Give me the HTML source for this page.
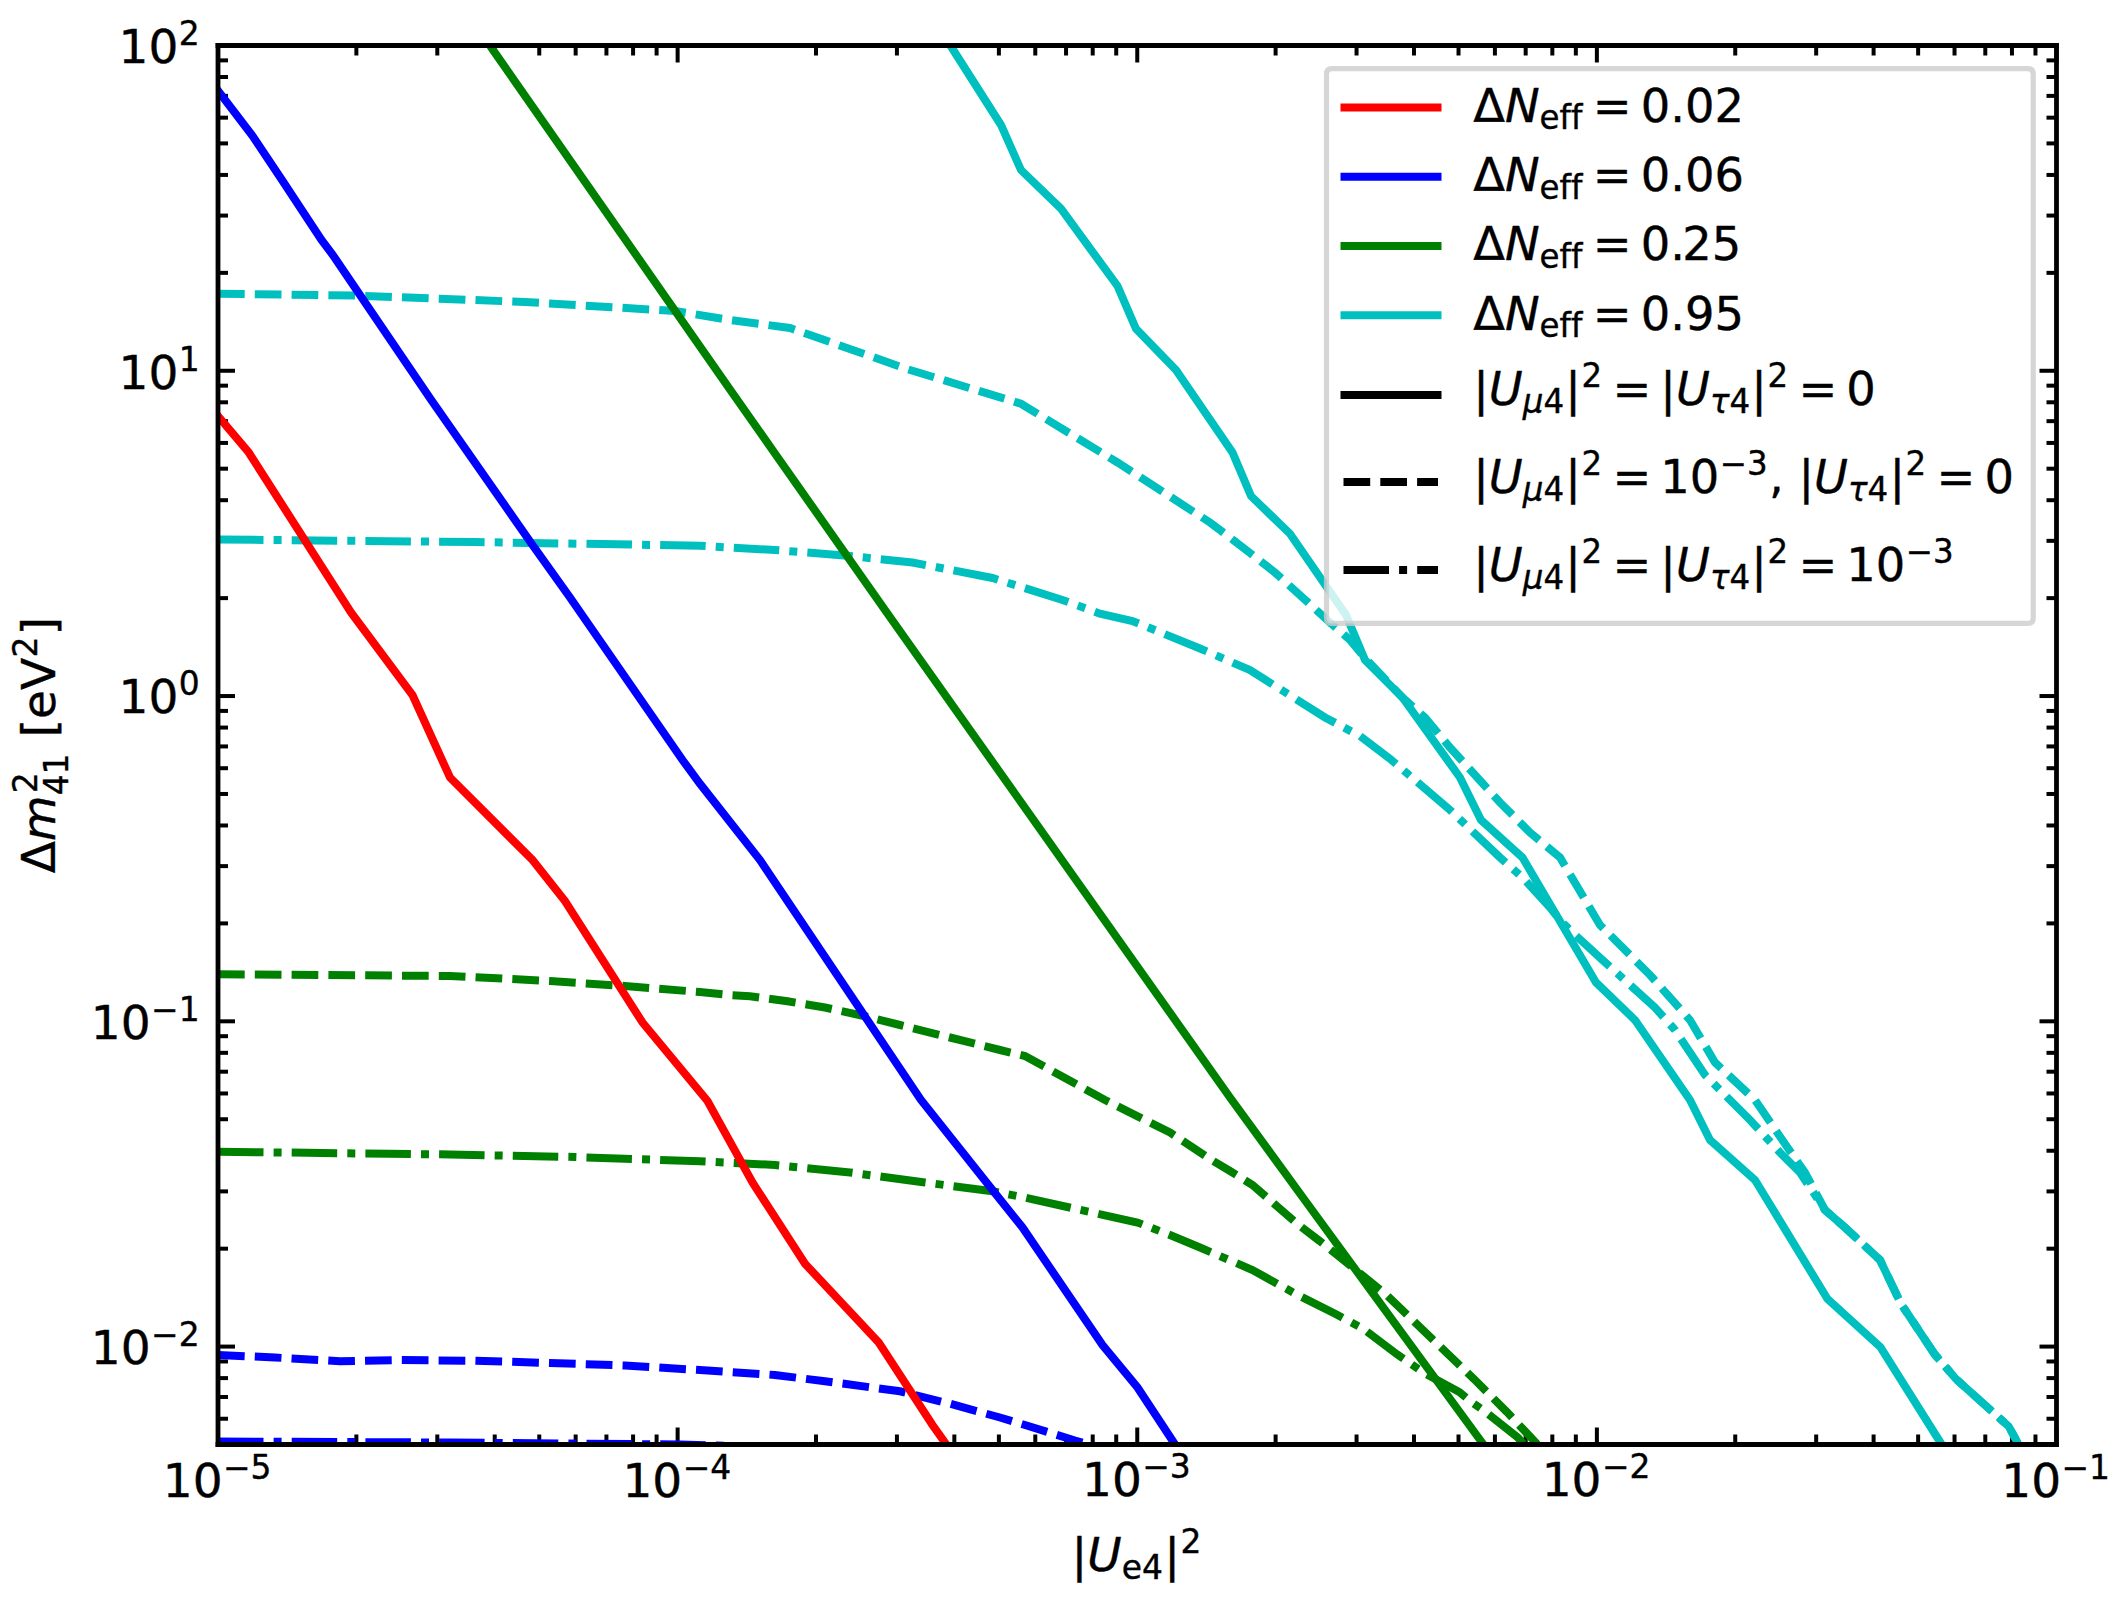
<!DOCTYPE html>
<html lang="en"><head><meta charset="utf-8"><title>Sterile neutrino contours</title>
<style>html,body{margin:0;padding:0;background:#fff}svg{display:block}text{font-family:"DejaVu Sans","Liberation Sans",sans-serif;stroke:#000;stroke-width:0.4px}</style>
</head><body>
<svg width="2120" height="1597" viewBox="0 0 2120 1597">
 <defs>
  <style type="text/css">*{stroke-linejoin: round; stroke-linecap: butt}</style>
 </defs>
 <g id="figure_1">
  <g id="patch_1">
   <path d="M 0 1597 
L 2120 1597 
L 2120 0 
L 0 0 
z
" style="fill: #ffffff"/>
  </g>
  <g id="axes_1">
   <g id="patch_2">
    <path d="M 218 1444.5 
L 2056.5 1444.5 
L 2056.5 45.5 
L 218 45.5 
z
" style="fill: #ffffff"/>
   </g>
   <g id="matplotlib.axis_1">
    <g id="xtick_1">
     <g id="line2d_1">
      <defs>
       <path id="mb663ec5b31" d="M 0 0 
L 0 -17 
" style="stroke: #000000; stroke-width: 4"/>
      </defs>
      <g>
       <use href="#mb663ec5b31" x="218" y="1444.5" style="stroke: #000000; stroke-width: 4"/>
      </g>
     </g>
     <g id="line2d_2">
      <defs>
       <path id="m6921e576f6" d="M 0 0 
L 0 17 
" style="stroke: #000000; stroke-width: 4"/>
      </defs>
      <g>
       <use href="#m6921e576f6" x="218" y="45.5" style="stroke: #000000; stroke-width: 4"/>
      </g>
     </g>
     <g id="text_1">
      <g transform="translate(162.775 1496.912656)">
       <text><tspan x="0 29.9" y="-0.02" style="font-size: 47px; font-family: 'DejaVu Sans', 'Liberation Sans', sans-serif">10</tspan><tspan x="60.26 87.82" y="-18.01" style="font-size: 32.9px; font-family: 'DejaVu Sans', 'Liberation Sans', sans-serif">−5</tspan></text>
      </g>
     </g>
    </g>
    <g id="xtick_2">
     <g id="line2d_3">
      <g>
       <use href="#mb663ec5b31" x="677.625" y="1444.5" style="stroke: #000000; stroke-width: 4"/>
      </g>
     </g>
     <g id="line2d_4">
      <g>
       <use href="#m6921e576f6" x="677.625" y="45.5" style="stroke: #000000; stroke-width: 4"/>
      </g>
     </g>
     <g id="text_2">
      <g transform="translate(622.4 1496.912656)">
       <text><tspan x="0 29.9" y="-0.02" style="font-size: 47px; font-family: 'DejaVu Sans', 'Liberation Sans', sans-serif">10</tspan><tspan x="60.26 87.82" y="-18.01" style="font-size: 32.9px; font-family: 'DejaVu Sans', 'Liberation Sans', sans-serif">−4</tspan></text>
      </g>
     </g>
    </g>
    <g id="xtick_3">
     <g id="line2d_5">
      <g>
       <use href="#mb663ec5b31" x="1137.25" y="1444.5" style="stroke: #000000; stroke-width: 4"/>
      </g>
     </g>
     <g id="line2d_6">
      <g>
       <use href="#m6921e576f6" x="1137.25" y="45.5" style="stroke: #000000; stroke-width: 4"/>
      </g>
     </g>
     <g id="text_3">
      <g transform="translate(1082.025 1496.912656)">
       <text><tspan x="0 29.9" y="-0.58" style="font-size: 47px; font-family: 'DejaVu Sans', 'Liberation Sans', sans-serif">10</tspan><tspan x="60.26 87.82" y="-18.58" style="font-size: 32.9px; font-family: 'DejaVu Sans', 'Liberation Sans', sans-serif">−3</tspan></text>
      </g>
     </g>
    </g>
    <g id="xtick_4">
     <g id="line2d_7">
      <g>
       <use href="#mb663ec5b31" x="1596.875" y="1444.5" style="stroke: #000000; stroke-width: 4"/>
      </g>
     </g>
     <g id="line2d_8">
      <g>
       <use href="#m6921e576f6" x="1596.875" y="45.5" style="stroke: #000000; stroke-width: 4"/>
      </g>
     </g>
     <g id="text_4">
      <g transform="translate(1541.65 1496.912656)">
       <text><tspan x="0 29.9" y="-0.58" style="font-size: 47px; font-family: 'DejaVu Sans', 'Liberation Sans', sans-serif">10</tspan><tspan x="60.26 87.82" y="-18.58" style="font-size: 32.9px; font-family: 'DejaVu Sans', 'Liberation Sans', sans-serif">−2</tspan></text>
      </g>
     </g>
    </g>
    <g id="xtick_5">
     <g id="line2d_9">
      <g>
       <use href="#mb663ec5b31" x="2056.5" y="1444.5" style="stroke: #000000; stroke-width: 4"/>
      </g>
     </g>
     <g id="line2d_10">
      <g>
       <use href="#m6921e576f6" x="2056.5" y="45.5" style="stroke: #000000; stroke-width: 4"/>
      </g>
     </g>
     <g id="text_5">
      <g transform="translate(2001.275 1496.912656)">
       <text><tspan x="0 29.9" y="-0.02" style="font-size: 47px; font-family: 'DejaVu Sans', 'Liberation Sans', sans-serif">10</tspan><tspan x="60.26 87.82" y="-18.01" style="font-size: 32.9px; font-family: 'DejaVu Sans', 'Liberation Sans', sans-serif">−1</tspan></text>
      </g>
     </g>
    </g>
    <g id="xtick_6">
     <g id="line2d_11">
      <defs>
       <path id="mf6463acd88" d="M 0 0 
L 0 -10 
" style="stroke: #000000; stroke-width: 4"/>
      </defs>
      <g>
       <use href="#mf6463acd88" x="356.360912" y="1444.5" style="stroke: #000000; stroke-width: 4"/>
      </g>
     </g>
     <g id="line2d_12">
      <defs>
       <path id="m4c3a717965" d="M 0 0 
L 0 10 
" style="stroke: #000000; stroke-width: 4"/>
      </defs>
      <g>
       <use href="#m4c3a717965" x="356.360912" y="45.5" style="stroke: #000000; stroke-width: 4"/>
      </g>
     </g>
    </g>
    <g id="xtick_7">
     <g id="line2d_13">
      <g>
       <use href="#mf6463acd88" x="437.296857" y="1444.5" style="stroke: #000000; stroke-width: 4"/>
      </g>
     </g>
     <g id="line2d_14">
      <g>
       <use href="#m4c3a717965" x="437.296857" y="45.5" style="stroke: #000000; stroke-width: 4"/>
      </g>
     </g>
    </g>
    <g id="xtick_8">
     <g id="line2d_15">
      <g>
       <use href="#mf6463acd88" x="494.721824" y="1444.5" style="stroke: #000000; stroke-width: 4"/>
      </g>
     </g>
     <g id="line2d_16">
      <g>
       <use href="#m4c3a717965" x="494.721824" y="45.5" style="stroke: #000000; stroke-width: 4"/>
      </g>
     </g>
    </g>
    <g id="xtick_9">
     <g id="line2d_17">
      <g>
       <use href="#mf6463acd88" x="539.264088" y="1444.5" style="stroke: #000000; stroke-width: 4"/>
      </g>
     </g>
     <g id="line2d_18">
      <g>
       <use href="#m4c3a717965" x="539.264088" y="45.5" style="stroke: #000000; stroke-width: 4"/>
      </g>
     </g>
    </g>
    <g id="xtick_10">
     <g id="line2d_19">
      <g>
       <use href="#mf6463acd88" x="575.657768" y="1444.5" style="stroke: #000000; stroke-width: 4"/>
      </g>
     </g>
     <g id="line2d_20">
      <g>
       <use href="#m4c3a717965" x="575.657768" y="45.5" style="stroke: #000000; stroke-width: 4"/>
      </g>
     </g>
    </g>
    <g id="xtick_11">
     <g id="line2d_21">
      <g>
       <use href="#mf6463acd88" x="606.428187" y="1444.5" style="stroke: #000000; stroke-width: 4"/>
      </g>
     </g>
     <g id="line2d_22">
      <g>
       <use href="#m4c3a717965" x="606.428187" y="45.5" style="stroke: #000000; stroke-width: 4"/>
      </g>
     </g>
    </g>
    <g id="xtick_12">
     <g id="line2d_23">
      <g>
       <use href="#mf6463acd88" x="633.082735" y="1444.5" style="stroke: #000000; stroke-width: 4"/>
      </g>
     </g>
     <g id="line2d_24">
      <g>
       <use href="#m4c3a717965" x="633.082735" y="45.5" style="stroke: #000000; stroke-width: 4"/>
      </g>
     </g>
    </g>
    <g id="xtick_13">
     <g id="line2d_25">
      <g>
       <use href="#mf6463acd88" x="656.593713" y="1444.5" style="stroke: #000000; stroke-width: 4"/>
      </g>
     </g>
     <g id="line2d_26">
      <g>
       <use href="#m4c3a717965" x="656.593713" y="45.5" style="stroke: #000000; stroke-width: 4"/>
      </g>
     </g>
    </g>
    <g id="xtick_14">
     <g id="line2d_27">
      <g>
       <use href="#mf6463acd88" x="815.985912" y="1444.5" style="stroke: #000000; stroke-width: 4"/>
      </g>
     </g>
     <g id="line2d_28">
      <g>
       <use href="#m4c3a717965" x="815.985912" y="45.5" style="stroke: #000000; stroke-width: 4"/>
      </g>
     </g>
    </g>
    <g id="xtick_15">
     <g id="line2d_29">
      <g>
       <use href="#mf6463acd88" x="896.921857" y="1444.5" style="stroke: #000000; stroke-width: 4"/>
      </g>
     </g>
     <g id="line2d_30">
      <g>
       <use href="#m4c3a717965" x="896.921857" y="45.5" style="stroke: #000000; stroke-width: 4"/>
      </g>
     </g>
    </g>
    <g id="xtick_16">
     <g id="line2d_31">
      <g>
       <use href="#mf6463acd88" x="954.346824" y="1444.5" style="stroke: #000000; stroke-width: 4"/>
      </g>
     </g>
     <g id="line2d_32">
      <g>
       <use href="#m4c3a717965" x="954.346824" y="45.5" style="stroke: #000000; stroke-width: 4"/>
      </g>
     </g>
    </g>
    <g id="xtick_17">
     <g id="line2d_33">
      <g>
       <use href="#mf6463acd88" x="998.889088" y="1444.5" style="stroke: #000000; stroke-width: 4"/>
      </g>
     </g>
     <g id="line2d_34">
      <g>
       <use href="#m4c3a717965" x="998.889088" y="45.5" style="stroke: #000000; stroke-width: 4"/>
      </g>
     </g>
    </g>
    <g id="xtick_18">
     <g id="line2d_35">
      <g>
       <use href="#mf6463acd88" x="1035.282768" y="1444.5" style="stroke: #000000; stroke-width: 4"/>
      </g>
     </g>
     <g id="line2d_36">
      <g>
       <use href="#m4c3a717965" x="1035.282768" y="45.5" style="stroke: #000000; stroke-width: 4"/>
      </g>
     </g>
    </g>
    <g id="xtick_19">
     <g id="line2d_37">
      <g>
       <use href="#mf6463acd88" x="1066.053187" y="1444.5" style="stroke: #000000; stroke-width: 4"/>
      </g>
     </g>
     <g id="line2d_38">
      <g>
       <use href="#m4c3a717965" x="1066.053187" y="45.5" style="stroke: #000000; stroke-width: 4"/>
      </g>
     </g>
    </g>
    <g id="xtick_20">
     <g id="line2d_39">
      <g>
       <use href="#mf6463acd88" x="1092.707735" y="1444.5" style="stroke: #000000; stroke-width: 4"/>
      </g>
     </g>
     <g id="line2d_40">
      <g>
       <use href="#m4c3a717965" x="1092.707735" y="45.5" style="stroke: #000000; stroke-width: 4"/>
      </g>
     </g>
    </g>
    <g id="xtick_21">
     <g id="line2d_41">
      <g>
       <use href="#mf6463acd88" x="1116.218713" y="1444.5" style="stroke: #000000; stroke-width: 4"/>
      </g>
     </g>
     <g id="line2d_42">
      <g>
       <use href="#m4c3a717965" x="1116.218713" y="45.5" style="stroke: #000000; stroke-width: 4"/>
      </g>
     </g>
    </g>
    <g id="xtick_22">
     <g id="line2d_43">
      <g>
       <use href="#mf6463acd88" x="1275.610912" y="1444.5" style="stroke: #000000; stroke-width: 4"/>
      </g>
     </g>
     <g id="line2d_44">
      <g>
       <use href="#m4c3a717965" x="1275.610912" y="45.5" style="stroke: #000000; stroke-width: 4"/>
      </g>
     </g>
    </g>
    <g id="xtick_23">
     <g id="line2d_45">
      <g>
       <use href="#mf6463acd88" x="1356.546857" y="1444.5" style="stroke: #000000; stroke-width: 4"/>
      </g>
     </g>
     <g id="line2d_46">
      <g>
       <use href="#m4c3a717965" x="1356.546857" y="45.5" style="stroke: #000000; stroke-width: 4"/>
      </g>
     </g>
    </g>
    <g id="xtick_24">
     <g id="line2d_47">
      <g>
       <use href="#mf6463acd88" x="1413.971824" y="1444.5" style="stroke: #000000; stroke-width: 4"/>
      </g>
     </g>
     <g id="line2d_48">
      <g>
       <use href="#m4c3a717965" x="1413.971824" y="45.5" style="stroke: #000000; stroke-width: 4"/>
      </g>
     </g>
    </g>
    <g id="xtick_25">
     <g id="line2d_49">
      <g>
       <use href="#mf6463acd88" x="1458.514088" y="1444.5" style="stroke: #000000; stroke-width: 4"/>
      </g>
     </g>
     <g id="line2d_50">
      <g>
       <use href="#m4c3a717965" x="1458.514088" y="45.5" style="stroke: #000000; stroke-width: 4"/>
      </g>
     </g>
    </g>
    <g id="xtick_26">
     <g id="line2d_51">
      <g>
       <use href="#mf6463acd88" x="1494.907768" y="1444.5" style="stroke: #000000; stroke-width: 4"/>
      </g>
     </g>
     <g id="line2d_52">
      <g>
       <use href="#m4c3a717965" x="1494.907768" y="45.5" style="stroke: #000000; stroke-width: 4"/>
      </g>
     </g>
    </g>
    <g id="xtick_27">
     <g id="line2d_53">
      <g>
       <use href="#mf6463acd88" x="1525.678187" y="1444.5" style="stroke: #000000; stroke-width: 4"/>
      </g>
     </g>
     <g id="line2d_54">
      <g>
       <use href="#m4c3a717965" x="1525.678187" y="45.5" style="stroke: #000000; stroke-width: 4"/>
      </g>
     </g>
    </g>
    <g id="xtick_28">
     <g id="line2d_55">
      <g>
       <use href="#mf6463acd88" x="1552.332735" y="1444.5" style="stroke: #000000; stroke-width: 4"/>
      </g>
     </g>
     <g id="line2d_56">
      <g>
       <use href="#m4c3a717965" x="1552.332735" y="45.5" style="stroke: #000000; stroke-width: 4"/>
      </g>
     </g>
    </g>
    <g id="xtick_29">
     <g id="line2d_57">
      <g>
       <use href="#mf6463acd88" x="1575.843713" y="1444.5" style="stroke: #000000; stroke-width: 4"/>
      </g>
     </g>
     <g id="line2d_58">
      <g>
       <use href="#m4c3a717965" x="1575.843713" y="45.5" style="stroke: #000000; stroke-width: 4"/>
      </g>
     </g>
    </g>
    <g id="xtick_30">
     <g id="line2d_59">
      <g>
       <use href="#mf6463acd88" x="1735.235912" y="1444.5" style="stroke: #000000; stroke-width: 4"/>
      </g>
     </g>
     <g id="line2d_60">
      <g>
       <use href="#m4c3a717965" x="1735.235912" y="45.5" style="stroke: #000000; stroke-width: 4"/>
      </g>
     </g>
    </g>
    <g id="xtick_31">
     <g id="line2d_61">
      <g>
       <use href="#mf6463acd88" x="1816.171857" y="1444.5" style="stroke: #000000; stroke-width: 4"/>
      </g>
     </g>
     <g id="line2d_62">
      <g>
       <use href="#m4c3a717965" x="1816.171857" y="45.5" style="stroke: #000000; stroke-width: 4"/>
      </g>
     </g>
    </g>
    <g id="xtick_32">
     <g id="line2d_63">
      <g>
       <use href="#mf6463acd88" x="1873.596824" y="1444.5" style="stroke: #000000; stroke-width: 4"/>
      </g>
     </g>
     <g id="line2d_64">
      <g>
       <use href="#m4c3a717965" x="1873.596824" y="45.5" style="stroke: #000000; stroke-width: 4"/>
      </g>
     </g>
    </g>
    <g id="xtick_33">
     <g id="line2d_65">
      <g>
       <use href="#mf6463acd88" x="1918.139088" y="1444.5" style="stroke: #000000; stroke-width: 4"/>
      </g>
     </g>
     <g id="line2d_66">
      <g>
       <use href="#m4c3a717965" x="1918.139088" y="45.5" style="stroke: #000000; stroke-width: 4"/>
      </g>
     </g>
    </g>
    <g id="xtick_34">
     <g id="line2d_67">
      <g>
       <use href="#mf6463acd88" x="1954.532768" y="1444.5" style="stroke: #000000; stroke-width: 4"/>
      </g>
     </g>
     <g id="line2d_68">
      <g>
       <use href="#m4c3a717965" x="1954.532768" y="45.5" style="stroke: #000000; stroke-width: 4"/>
      </g>
     </g>
    </g>
    <g id="xtick_35">
     <g id="line2d_69">
      <g>
       <use href="#mf6463acd88" x="1985.303187" y="1444.5" style="stroke: #000000; stroke-width: 4"/>
      </g>
     </g>
     <g id="line2d_70">
      <g>
       <use href="#m4c3a717965" x="1985.303187" y="45.5" style="stroke: #000000; stroke-width: 4"/>
      </g>
     </g>
    </g>
    <g id="xtick_36">
     <g id="line2d_71">
      <g>
       <use href="#mf6463acd88" x="2011.957735" y="1444.5" style="stroke: #000000; stroke-width: 4"/>
      </g>
     </g>
     <g id="line2d_72">
      <g>
       <use href="#m4c3a717965" x="2011.957735" y="45.5" style="stroke: #000000; stroke-width: 4"/>
      </g>
     </g>
    </g>
    <g id="xtick_37">
     <g id="line2d_73">
      <g>
       <use href="#mf6463acd88" x="2035.468713" y="1444.5" style="stroke: #000000; stroke-width: 4"/>
      </g>
     </g>
     <g id="line2d_74">
      <g>
       <use href="#m4c3a717965" x="2035.468713" y="45.5" style="stroke: #000000; stroke-width: 4"/>
      </g>
     </g>
    </g>
    <g id="text_6">
     <g transform="translate(1071.45 1571.457187)">
      <text><tspan x="0" y="-0.58" style="font-size: 47px; font-family: 'DejaVu Sans', 'Liberation Sans', sans-serif">|</tspan><tspan x="15.83" y="-0.58" style="font-style: oblique; font-size: 47px; font-family: 'DejaVu Sans', 'Liberation Sans', sans-serif">U</tspan><tspan x="50.24 70.48" y="7.13" style="font-size: 32.9px; font-family: 'DejaVu Sans', 'Liberation Sans', sans-serif">e4</tspan><tspan x="92.69" y="-0.58" style="font-size: 47px; font-family: 'DejaVu Sans', 'Liberation Sans', sans-serif">|</tspan><tspan x="108.98" y="-18.58" style="font-size: 32.9px; font-family: 'DejaVu Sans', 'Liberation Sans', sans-serif">2</tspan></text>
     </g>
    </g>
   </g>
   <g id="matplotlib.axis_2">
    <g id="ytick_1">
     <g id="line2d_75">
      <defs>
       <path id="md969e17abe" d="M 0 0 
L 17 0 
" style="stroke: #000000; stroke-width: 4"/>
      </defs>
      <g>
       <use href="#md969e17abe" x="218" y="1346.583695" style="stroke: #000000; stroke-width: 4"/>
      </g>
     </g>
     <g id="line2d_76">
      <defs>
       <path id="m9e767a2d4d" d="M 0 0 
L -17 0 
" style="stroke: #000000; stroke-width: 4"/>
      </defs>
      <g>
       <use href="#m9e767a2d4d" x="2056.5" y="1346.583695" style="stroke: #000000; stroke-width: 4"/>
      </g>
     </g>
     <g id="text_7">
      <g transform="translate(90.85 1364.440023)">
       <text><tspan x="0 29.9" y="-0.58" style="font-size: 47px; font-family: 'DejaVu Sans', 'Liberation Sans', sans-serif">10</tspan><tspan x="60.26 87.82" y="-18.58" style="font-size: 32.9px; font-family: 'DejaVu Sans', 'Liberation Sans', sans-serif">−2</tspan></text>
      </g>
     </g>
    </g>
    <g id="ytick_2">
     <g id="line2d_77">
      <g>
       <use href="#md969e17abe" x="218" y="1021.312771" style="stroke: #000000; stroke-width: 4"/>
      </g>
     </g>
     <g id="line2d_78">
      <g>
       <use href="#m9e767a2d4d" x="2056.5" y="1021.312771" style="stroke: #000000; stroke-width: 4"/>
      </g>
     </g>
     <g id="text_8">
      <g transform="translate(90.85 1039.1691)">
       <text><tspan x="0 29.9" y="-0.02" style="font-size: 47px; font-family: 'DejaVu Sans', 'Liberation Sans', sans-serif">10</tspan><tspan x="60.26 87.82" y="-18.01" style="font-size: 32.9px; font-family: 'DejaVu Sans', 'Liberation Sans', sans-serif">−1</tspan></text>
      </g>
     </g>
    </g>
    <g id="ytick_3">
     <g id="line2d_79">
      <g>
       <use href="#md969e17abe" x="218" y="696.041848" style="stroke: #000000; stroke-width: 4"/>
      </g>
     </g>
     <g id="line2d_80">
      <g>
       <use href="#m9e767a2d4d" x="2056.5" y="696.041848" style="stroke: #000000; stroke-width: 4"/>
      </g>
     </g>
     <g id="text_9">
      <g transform="translate(118.58 713.898176)">
       <text><tspan x="0 29.9" y="-0.58" style="font-size: 47px; font-family: 'DejaVu Sans', 'Liberation Sans', sans-serif">10</tspan><tspan x="60.26" y="-18.58" style="font-size: 32.9px; font-family: 'DejaVu Sans', 'Liberation Sans', sans-serif">0</tspan></text>
      </g>
     </g>
    </g>
    <g id="ytick_4">
     <g id="line2d_81">
      <g>
       <use href="#md969e17abe" x="218" y="370.770924" style="stroke: #000000; stroke-width: 4"/>
      </g>
     </g>
     <g id="line2d_82">
      <g>
       <use href="#m9e767a2d4d" x="2056.5" y="370.770924" style="stroke: #000000; stroke-width: 4"/>
      </g>
     </g>
     <g id="text_10">
      <g transform="translate(118.58 388.627252)">
       <text><tspan x="0 29.9" y="-0.02" style="font-size: 47px; font-family: 'DejaVu Sans', 'Liberation Sans', sans-serif">10</tspan><tspan x="60.26" y="-18.01" style="font-size: 32.9px; font-family: 'DejaVu Sans', 'Liberation Sans', sans-serif">1</tspan></text>
      </g>
     </g>
    </g>
    <g id="ytick_5">
     <g id="line2d_83">
      <g>
       <use href="#md969e17abe" x="218" y="45.5" style="stroke: #000000; stroke-width: 4"/>
      </g>
     </g>
     <g id="line2d_84">
      <g>
       <use href="#m9e767a2d4d" x="2056.5" y="45.5" style="stroke: #000000; stroke-width: 4"/>
      </g>
     </g>
     <g id="text_11">
      <g transform="translate(118.58 63.356328)">
       <text><tspan x="0 29.9" y="-0.58" style="font-size: 47px; font-family: 'DejaVu Sans', 'Liberation Sans', sans-serif">10</tspan><tspan x="60.26" y="-18.58" style="font-size: 32.9px; font-family: 'DejaVu Sans', 'Liberation Sans', sans-serif">2</tspan></text>
      </g>
     </g>
    </g>
    <g id="ytick_6">
     <g id="line2d_85">
      <defs>
       <path id="mee4bfdb042" d="M 0 0 
L 10 0 
" style="stroke: #000000; stroke-width: 4"/>
      </defs>
      <g>
       <use href="#mee4bfdb042" x="218" y="1444.5" style="stroke: #000000; stroke-width: 4"/>
      </g>
     </g>
     <g id="line2d_86">
      <defs>
       <path id="mb2b41f4865" d="M 0 0 
L -10 0 
" style="stroke: #000000; stroke-width: 4"/>
      </defs>
      <g>
       <use href="#mb2b41f4865" x="2056.5" y="1444.5" style="stroke: #000000; stroke-width: 4"/>
      </g>
     </g>
    </g>
    <g id="ytick_7">
     <g id="line2d_87">
      <g>
       <use href="#mee4bfdb042" x="218" y="1418.744643" style="stroke: #000000; stroke-width: 4"/>
      </g>
     </g>
     <g id="line2d_88">
      <g>
       <use href="#mb2b41f4865" x="2056.5" y="1418.744643" style="stroke: #000000; stroke-width: 4"/>
      </g>
     </g>
    </g>
    <g id="ytick_8">
     <g id="line2d_89">
      <g>
       <use href="#mee4bfdb042" x="218" y="1396.968799" style="stroke: #000000; stroke-width: 4"/>
      </g>
     </g>
     <g id="line2d_90">
      <g>
       <use href="#mb2b41f4865" x="2056.5" y="1396.968799" style="stroke: #000000; stroke-width: 4"/>
      </g>
     </g>
    </g>
    <g id="ytick_9">
     <g id="line2d_91">
      <g>
       <use href="#mee4bfdb042" x="218" y="1378.105705" style="stroke: #000000; stroke-width: 4"/>
      </g>
     </g>
     <g id="line2d_92">
      <g>
       <use href="#mb2b41f4865" x="2056.5" y="1378.105705" style="stroke: #000000; stroke-width: 4"/>
      </g>
     </g>
    </g>
    <g id="ytick_10">
     <g id="line2d_93">
      <g>
       <use href="#mee4bfdb042" x="218" y="1361.467276" style="stroke: #000000; stroke-width: 4"/>
      </g>
     </g>
     <g id="line2d_94">
      <g>
       <use href="#mb2b41f4865" x="2056.5" y="1361.467276" style="stroke: #000000; stroke-width: 4"/>
      </g>
     </g>
    </g>
    <g id="ytick_11">
     <g id="line2d_95">
      <g>
       <use href="#mee4bfdb042" x="218" y="1248.66739" style="stroke: #000000; stroke-width: 4"/>
      </g>
     </g>
     <g id="line2d_96">
      <g>
       <use href="#mb2b41f4865" x="2056.5" y="1248.66739" style="stroke: #000000; stroke-width: 4"/>
      </g>
     </g>
    </g>
    <g id="ytick_12">
     <g id="line2d_97">
      <g>
       <use href="#mee4bfdb042" x="218" y="1191.390024" style="stroke: #000000; stroke-width: 4"/>
      </g>
     </g>
     <g id="line2d_98">
      <g>
       <use href="#mb2b41f4865" x="2056.5" y="1191.390024" style="stroke: #000000; stroke-width: 4"/>
      </g>
     </g>
    </g>
    <g id="ytick_13">
     <g id="line2d_99">
      <g>
       <use href="#mee4bfdb042" x="218" y="1150.751086" style="stroke: #000000; stroke-width: 4"/>
      </g>
     </g>
     <g id="line2d_100">
      <g>
       <use href="#mb2b41f4865" x="2056.5" y="1150.751086" style="stroke: #000000; stroke-width: 4"/>
      </g>
     </g>
    </g>
    <g id="ytick_14">
     <g id="line2d_101">
      <g>
       <use href="#mee4bfdb042" x="218" y="1119.229076" style="stroke: #000000; stroke-width: 4"/>
      </g>
     </g>
     <g id="line2d_102">
      <g>
       <use href="#mb2b41f4865" x="2056.5" y="1119.229076" style="stroke: #000000; stroke-width: 4"/>
      </g>
     </g>
    </g>
    <g id="ytick_15">
     <g id="line2d_103">
      <g>
       <use href="#mee4bfdb042" x="218" y="1093.473719" style="stroke: #000000; stroke-width: 4"/>
      </g>
     </g>
     <g id="line2d_104">
      <g>
       <use href="#mb2b41f4865" x="2056.5" y="1093.473719" style="stroke: #000000; stroke-width: 4"/>
      </g>
     </g>
    </g>
    <g id="ytick_16">
     <g id="line2d_105">
      <g>
       <use href="#mee4bfdb042" x="218" y="1071.697875" style="stroke: #000000; stroke-width: 4"/>
      </g>
     </g>
     <g id="line2d_106">
      <g>
       <use href="#mb2b41f4865" x="2056.5" y="1071.697875" style="stroke: #000000; stroke-width: 4"/>
      </g>
     </g>
    </g>
    <g id="ytick_17">
     <g id="line2d_107">
      <g>
       <use href="#mee4bfdb042" x="218" y="1052.834781" style="stroke: #000000; stroke-width: 4"/>
      </g>
     </g>
     <g id="line2d_108">
      <g>
       <use href="#mb2b41f4865" x="2056.5" y="1052.834781" style="stroke: #000000; stroke-width: 4"/>
      </g>
     </g>
    </g>
    <g id="ytick_18">
     <g id="line2d_109">
      <g>
       <use href="#mee4bfdb042" x="218" y="1036.196353" style="stroke: #000000; stroke-width: 4"/>
      </g>
     </g>
     <g id="line2d_110">
      <g>
       <use href="#mb2b41f4865" x="2056.5" y="1036.196353" style="stroke: #000000; stroke-width: 4"/>
      </g>
     </g>
    </g>
    <g id="ytick_19">
     <g id="line2d_111">
      <g>
       <use href="#mee4bfdb042" x="218" y="923.396467" style="stroke: #000000; stroke-width: 4"/>
      </g>
     </g>
     <g id="line2d_112">
      <g>
       <use href="#mb2b41f4865" x="2056.5" y="923.396467" style="stroke: #000000; stroke-width: 4"/>
      </g>
     </g>
    </g>
    <g id="ytick_20">
     <g id="line2d_113">
      <g>
       <use href="#mee4bfdb042" x="218" y="866.1191" style="stroke: #000000; stroke-width: 4"/>
      </g>
     </g>
     <g id="line2d_114">
      <g>
       <use href="#mb2b41f4865" x="2056.5" y="866.1191" style="stroke: #000000; stroke-width: 4"/>
      </g>
     </g>
    </g>
    <g id="ytick_21">
     <g id="line2d_115">
      <g>
       <use href="#mee4bfdb042" x="218" y="825.480162" style="stroke: #000000; stroke-width: 4"/>
      </g>
     </g>
     <g id="line2d_116">
      <g>
       <use href="#mb2b41f4865" x="2056.5" y="825.480162" style="stroke: #000000; stroke-width: 4"/>
      </g>
     </g>
    </g>
    <g id="ytick_22">
     <g id="line2d_117">
      <g>
       <use href="#mee4bfdb042" x="218" y="793.958152" style="stroke: #000000; stroke-width: 4"/>
      </g>
     </g>
     <g id="line2d_118">
      <g>
       <use href="#mb2b41f4865" x="2056.5" y="793.958152" style="stroke: #000000; stroke-width: 4"/>
      </g>
     </g>
    </g>
    <g id="ytick_23">
     <g id="line2d_119">
      <g>
       <use href="#mee4bfdb042" x="218" y="768.202795" style="stroke: #000000; stroke-width: 4"/>
      </g>
     </g>
     <g id="line2d_120">
      <g>
       <use href="#mb2b41f4865" x="2056.5" y="768.202795" style="stroke: #000000; stroke-width: 4"/>
      </g>
     </g>
    </g>
    <g id="ytick_24">
     <g id="line2d_121">
      <g>
       <use href="#mee4bfdb042" x="218" y="746.426951" style="stroke: #000000; stroke-width: 4"/>
      </g>
     </g>
     <g id="line2d_122">
      <g>
       <use href="#mb2b41f4865" x="2056.5" y="746.426951" style="stroke: #000000; stroke-width: 4"/>
      </g>
     </g>
    </g>
    <g id="ytick_25">
     <g id="line2d_123">
      <g>
       <use href="#mee4bfdb042" x="218" y="727.563857" style="stroke: #000000; stroke-width: 4"/>
      </g>
     </g>
     <g id="line2d_124">
      <g>
       <use href="#mb2b41f4865" x="2056.5" y="727.563857" style="stroke: #000000; stroke-width: 4"/>
      </g>
     </g>
    </g>
    <g id="ytick_26">
     <g id="line2d_125">
      <g>
       <use href="#mee4bfdb042" x="218" y="710.925429" style="stroke: #000000; stroke-width: 4"/>
      </g>
     </g>
     <g id="line2d_126">
      <g>
       <use href="#mb2b41f4865" x="2056.5" y="710.925429" style="stroke: #000000; stroke-width: 4"/>
      </g>
     </g>
    </g>
    <g id="ytick_27">
     <g id="line2d_127">
      <g>
       <use href="#mee4bfdb042" x="218" y="598.125543" style="stroke: #000000; stroke-width: 4"/>
      </g>
     </g>
     <g id="line2d_128">
      <g>
       <use href="#mb2b41f4865" x="2056.5" y="598.125543" style="stroke: #000000; stroke-width: 4"/>
      </g>
     </g>
    </g>
    <g id="ytick_28">
     <g id="line2d_129">
      <g>
       <use href="#mee4bfdb042" x="218" y="540.848176" style="stroke: #000000; stroke-width: 4"/>
      </g>
     </g>
     <g id="line2d_130">
      <g>
       <use href="#mb2b41f4865" x="2056.5" y="540.848176" style="stroke: #000000; stroke-width: 4"/>
      </g>
     </g>
    </g>
    <g id="ytick_29">
     <g id="line2d_131">
      <g>
       <use href="#mee4bfdb042" x="218" y="500.209238" style="stroke: #000000; stroke-width: 4"/>
      </g>
     </g>
     <g id="line2d_132">
      <g>
       <use href="#mb2b41f4865" x="2056.5" y="500.209238" style="stroke: #000000; stroke-width: 4"/>
      </g>
     </g>
    </g>
    <g id="ytick_30">
     <g id="line2d_133">
      <g>
       <use href="#mee4bfdb042" x="218" y="468.687229" style="stroke: #000000; stroke-width: 4"/>
      </g>
     </g>
     <g id="line2d_134">
      <g>
       <use href="#mb2b41f4865" x="2056.5" y="468.687229" style="stroke: #000000; stroke-width: 4"/>
      </g>
     </g>
    </g>
    <g id="ytick_31">
     <g id="line2d_135">
      <g>
       <use href="#mee4bfdb042" x="218" y="442.931872" style="stroke: #000000; stroke-width: 4"/>
      </g>
     </g>
     <g id="line2d_136">
      <g>
       <use href="#mb2b41f4865" x="2056.5" y="442.931872" style="stroke: #000000; stroke-width: 4"/>
      </g>
     </g>
    </g>
    <g id="ytick_32">
     <g id="line2d_137">
      <g>
       <use href="#mee4bfdb042" x="218" y="421.156027" style="stroke: #000000; stroke-width: 4"/>
      </g>
     </g>
     <g id="line2d_138">
      <g>
       <use href="#mb2b41f4865" x="2056.5" y="421.156027" style="stroke: #000000; stroke-width: 4"/>
      </g>
     </g>
    </g>
    <g id="ytick_33">
     <g id="line2d_139">
      <g>
       <use href="#mee4bfdb042" x="218" y="402.292933" style="stroke: #000000; stroke-width: 4"/>
      </g>
     </g>
     <g id="line2d_140">
      <g>
       <use href="#mb2b41f4865" x="2056.5" y="402.292933" style="stroke: #000000; stroke-width: 4"/>
      </g>
     </g>
    </g>
    <g id="ytick_34">
     <g id="line2d_141">
      <g>
       <use href="#mee4bfdb042" x="218" y="385.654505" style="stroke: #000000; stroke-width: 4"/>
      </g>
     </g>
     <g id="line2d_142">
      <g>
       <use href="#mb2b41f4865" x="2056.5" y="385.654505" style="stroke: #000000; stroke-width: 4"/>
      </g>
     </g>
    </g>
    <g id="ytick_35">
     <g id="line2d_143">
      <g>
       <use href="#mee4bfdb042" x="218" y="272.854619" style="stroke: #000000; stroke-width: 4"/>
      </g>
     </g>
     <g id="line2d_144">
      <g>
       <use href="#mb2b41f4865" x="2056.5" y="272.854619" style="stroke: #000000; stroke-width: 4"/>
      </g>
     </g>
    </g>
    <g id="ytick_36">
     <g id="line2d_145">
      <g>
       <use href="#mee4bfdb042" x="218" y="215.577253" style="stroke: #000000; stroke-width: 4"/>
      </g>
     </g>
     <g id="line2d_146">
      <g>
       <use href="#mb2b41f4865" x="2056.5" y="215.577253" style="stroke: #000000; stroke-width: 4"/>
      </g>
     </g>
    </g>
    <g id="ytick_37">
     <g id="line2d_147">
      <g>
       <use href="#mee4bfdb042" x="218" y="174.938314" style="stroke: #000000; stroke-width: 4"/>
      </g>
     </g>
     <g id="line2d_148">
      <g>
       <use href="#mb2b41f4865" x="2056.5" y="174.938314" style="stroke: #000000; stroke-width: 4"/>
      </g>
     </g>
    </g>
    <g id="ytick_38">
     <g id="line2d_149">
      <g>
       <use href="#mee4bfdb042" x="218" y="143.416305" style="stroke: #000000; stroke-width: 4"/>
      </g>
     </g>
     <g id="line2d_150">
      <g>
       <use href="#mb2b41f4865" x="2056.5" y="143.416305" style="stroke: #000000; stroke-width: 4"/>
      </g>
     </g>
    </g>
    <g id="ytick_39">
     <g id="line2d_151">
      <g>
       <use href="#mee4bfdb042" x="218" y="117.660948" style="stroke: #000000; stroke-width: 4"/>
      </g>
     </g>
     <g id="line2d_152">
      <g>
       <use href="#mb2b41f4865" x="2056.5" y="117.660948" style="stroke: #000000; stroke-width: 4"/>
      </g>
     </g>
    </g>
    <g id="ytick_40">
     <g id="line2d_153">
      <g>
       <use href="#mee4bfdb042" x="218" y="95.885104" style="stroke: #000000; stroke-width: 4"/>
      </g>
     </g>
     <g id="line2d_154">
      <g>
       <use href="#mb2b41f4865" x="2056.5" y="95.885104" style="stroke: #000000; stroke-width: 4"/>
      </g>
     </g>
    </g>
    <g id="ytick_41">
     <g id="line2d_155">
      <g>
       <use href="#mee4bfdb042" x="218" y="77.022009" style="stroke: #000000; stroke-width: 4"/>
      </g>
     </g>
     <g id="line2d_156">
      <g>
       <use href="#mb2b41f4865" x="2056.5" y="77.022009" style="stroke: #000000; stroke-width: 4"/>
      </g>
     </g>
    </g>
    <g id="ytick_42">
     <g id="line2d_157">
      <g>
       <use href="#mee4bfdb042" x="218" y="60.383581" style="stroke: #000000; stroke-width: 4"/>
      </g>
     </g>
     <g id="line2d_158">
      <g>
       <use href="#mb2b41f4865" x="2056.5" y="60.383581" style="stroke: #000000; stroke-width: 4"/>
      </g>
     </g>
    </g>
    <g id="text_12">
     <g transform="translate(55.69 873.31) rotate(-90)">
      <text><tspan x="0" y="-0.58" style="font-size: 47px; font-family: 'DejaVu Sans', 'Liberation Sans', sans-serif">Δ</tspan><tspan x="32.15" y="-0.58" style="font-style: oblique; font-size: 47px; font-family: 'DejaVu Sans', 'Liberation Sans', sans-serif">m</tspan><tspan x="77.94" y="12.27" style="font-size: 32.9px; font-family: 'DejaVu Sans', 'Liberation Sans', sans-serif">4</tspan><tspan x="80.12" y="-18.58" style="font-size: 32.9px; font-family: 'DejaVu Sans', 'Liberation Sans', sans-serif">2</tspan><tspan x="98.87" y="12.27" style="font-size: 32.9px; font-family: 'DejaVu Sans', 'Liberation Sans', sans-serif">1</tspan><tspan x="121.08 136.02 154.36 183.28" y="-0.58" style="font-size: 47px; font-family: 'DejaVu Sans', 'Liberation Sans', sans-serif"> [eV</tspan><tspan x="215.88" y="-18.58" style="font-size: 32.9px; font-family: 'DejaVu Sans', 'Liberation Sans', sans-serif">2</tspan><tspan x="238.1" y="-0.58" style="font-size: 47px; font-family: 'DejaVu Sans', 'Liberation Sans', sans-serif">]</tspan></text>
     </g>
    </g>
   </g>
   <g id="line2d_159">
    <path d="M 218 539.5 
L 475 542 
L 700 545.75 
L 720 547 
L 775 550 
L 850 556 
L 912.5 562.5 
L 992.5 578 
L 1062.5 600 
L 1100 613.75 
L 1132.5 621 
L 1200 648.5 
L 1250 670 
L 1325 717.5 
L 1360 736 
L 1390 758.75 
L 1450 810 
L 1500 857.5 
L 1522.5 877.5 
L 1550 907.5 
L 1560 920 
L 1572.5 932.5 
L 1602.5 960 
L 1655 1007.5 
L 1675 1030 
L 1705 1075 
L 1725 1095 
L 1750 1120 
L 1780 1152.5 
L 1800 1172.5 
L 1825 1210 
L 1845 1227.5 
L 1880 1260 
L 1901 1303.8 
L 1935 1354.7 
L 1956 1379 
L 1989.8 1409.4 
L 2008.7 1426.4 
L 2017 1441.5 
L 2019 1446 
" clip-path="url(#p6a6353f2ea)" style="fill: none; stroke-dasharray: 45.5,10.1,8,10.1; stroke-dashoffset: 0; stroke: #00bfbf; stroke-width: 8; stroke-linejoin: miter"/>
   </g>
   <g id="line2d_160">
    <path d="M 218 1151.75 
L 450 1154.5 
L 575 1157 
L 700 1161.25 
L 775 1165 
L 850 1172.5 
L 925 1182.5 
L 992.5 1191.25 
L 1025 1197.5 
L 1075 1208.75 
L 1137.5 1222.5 
L 1170 1235 
L 1200 1247.5 
L 1252.5 1270 
L 1296.5 1294.4 
L 1335.6 1314 
L 1363 1328.6 
L 1397.4 1354.6 
L 1423.5 1372.6 
L 1459.3 1392 
L 1472.3 1402.7 
L 1485.3 1411.6 
L 1518 1437.7 
L 1521 1441 
L 1526 1446 
" clip-path="url(#p6a6353f2ea)" style="fill: none; stroke-dasharray: 45.5,10.1,8,10.1; stroke-dashoffset: 0; stroke: #008000; stroke-width: 8; stroke-linejoin: miter"/>
   </g>
   <g id="line2d_161">
    <path d="M 218 1441.5 
L 450 1442.5 
L 680 1444.5 
L 800 1448 
" clip-path="url(#p6a6353f2ea)" style="fill: none; stroke-dasharray: 45.5,10.1,8,10.1; stroke-dashoffset: 0; stroke: #0000ff; stroke-width: 8; stroke-linejoin: miter"/>
   </g>
   <g id="line2d_162">
    <path d="M 218 293.75 
L 355 295.5 
L 525 302 
L 675 311 
L 730 320 
L 790 328 
L 907 369 
L 1021 403.75 
L 1117.5 462.5 
L 1210 522.5 
L 1230 537.5 
L 1275 572.5 
L 1330 622.5 
L 1350 640 
L 1365 658 
L 1402.5 697.5 
L 1425 717.5 
L 1450 747.5 
L 1475 775 
L 1500 802.5 
L 1530 832.5 
L 1560 857.5 
L 1600 925 
L 1650 975 
L 1690 1020 
L 1715 1062.5 
L 1755 1100 
L 1787.5 1147.5 
L 1805 1172.5 
L 1825 1210 
L 1845 1227.5 
L 1880 1260 
L 1901 1303.8 
L 1935 1354.7 
L 1956 1379 
L 1989.8 1409.4 
L 2008.7 1426.4 
L 2017 1441.5 
L 2019 1446 
" clip-path="url(#p6a6353f2ea)" style="fill: none; stroke-dasharray: 26.7,10.1; stroke-dashoffset: 0; stroke: #00bfbf; stroke-width: 8; stroke-linejoin: miter"/>
   </g>
   <g id="line2d_163">
    <path d="M 218 974.25 
L 450 976 
L 550 981 
L 625 986 
L 700 992 
L 730 995 
L 750 996.25 
L 787.5 1001.25 
L 825 1007.5 
L 865 1016.25 
L 900 1025 
L 950 1037.5 
L 1000 1050 
L 1025 1056 
L 1105 1100 
L 1170 1132.5 
L 1210 1159 
L 1230 1171 
L 1252.5 1185 
L 1298 1224.4 
L 1319.3 1240.7 
L 1368 1279.8 
L 1387.7 1296 
L 1431.6 1338.4 
L 1474 1379 
L 1506.5 1411.6 
L 1532.6 1439.3 
L 1537 1444 
L 1540 1447 
" clip-path="url(#p6a6353f2ea)" style="fill: none; stroke-dasharray: 26.7,10.1; stroke-dashoffset: 0; stroke: #008000; stroke-width: 8; stroke-linejoin: miter"/>
   </g>
   <g id="line2d_164">
    <path d="M 218 1355 
L 275 1357.5 
L 340 1361.25 
L 400 1360 
L 475 1360.75 
L 550 1363 
L 625 1365.5 
L 700 1370 
L 775 1375 
L 825 1381.25 
L 900 1391.25 
L 950 1403.75 
L 1000 1417.5 
L 1025 1425 
L 1075 1440.5 
L 1095 1446 
L 1100 1448 
" clip-path="url(#p6a6353f2ea)" style="fill: none; stroke-dasharray: 26.7,10.1; stroke-dashoffset: 0; stroke: #0000ff; stroke-width: 8; stroke-linejoin: miter"/>
   </g>
   <g id="line2d_165">
    <path d="M 218 416 
L 248.75 452.5 
L 351 612.5 
L 412.5 695 
L 450 777.5 
L 532.5 860 
L 565 901 
L 642.5 1022.5 
L 707.5 1101 
L 752.5 1182.5 
L 805 1263.75 
L 878.75 1342.5 
L 932.5 1425 
L 946 1444 
L 950 1450 
" clip-path="url(#p6a6353f2ea)" style="fill: none; stroke: #ff0000; stroke-width: 8; stroke-linejoin: miter; stroke-linecap: square"/>
   </g>
   <g id="line2d_166">
    <path d="M 218 90.7 
L 252.3 135.5 
L 282 180 
L 321.5 240 
L 332.5 254.5 
L 431.25 400 
L 532.5 545 
L 570 597.5 
L 682.5 760 
L 700 783.75 
L 760 860 
L 921 1100 
L 992.5 1190 
L 1022.5 1227.5 
L 1102.5 1345 
L 1137.5 1387.5 
L 1173.75 1442.5 
L 1176 1446 
" clip-path="url(#p6a6353f2ea)" style="fill: none; stroke: #0000ff; stroke-width: 8; stroke-linejoin: miter; stroke-linecap: square"/>
   </g>
   <g id="line2d_167">
    <path d="M 485 38 
L 493 50 
L 730 389.5 
L 772.5 450 
L 885 610 
L 1018.75 799 
L 1230 1097.5 
L 1304.7 1200 
L 1366.5 1284.6 
L 1482 1442.5 
L 1485 1446.6 
" clip-path="url(#p6a6353f2ea)" style="fill: none; stroke: #008000; stroke-width: 8; stroke-linejoin: miter; stroke-linecap: square"/>
   </g>
   <g id="line2d_168">
    <path d="M 948 41.7 
L 952.5 48.75 
L 1001 125 
L 1021 170 
L 1061 208.75 
L 1117.5 286 
L 1136 328.75 
L 1176 370 
L 1232.5 452.5 
L 1251 496 
L 1290 533.75 
L 1346 615 
L 1365 660 
L 1402.5 697.5 
L 1460 777.5 
L 1481 820 
L 1522.5 857.5 
L 1572.5 942.5 
L 1596 982.5 
L 1635 1020 
L 1690 1100 
L 1710 1140 
L 1755 1180 
L 1827.5 1299 
L 1880.4 1347 
L 1939.8 1441.5 
L 1942 1445 
" clip-path="url(#p6a6353f2ea)" style="fill: none; stroke: #00bfbf; stroke-width: 8; stroke-linejoin: miter; stroke-linecap: square"/>
   </g>
   <g id="patch_3">
    <path d="M 218 1444.5 
L 218 45.5 
" style="fill: none; stroke: #000000; stroke-width: 4.8; stroke-linejoin: miter; stroke-linecap: square"/>
   </g>
   <g id="patch_4">
    <path d="M 2056.5 1444.5 
L 2056.5 45.5 
" style="fill: none; stroke: #000000; stroke-width: 4.8; stroke-linejoin: miter; stroke-linecap: square"/>
   </g>
   <g id="patch_5">
    <path d="M 218 1444.5 
L 2056.5 1444.5 
" style="fill: none; stroke: #000000; stroke-width: 4.8; stroke-linejoin: miter; stroke-linecap: square"/>
   </g>
   <g id="patch_6">
    <path d="M 218 45.5 
L 2056.5 45.5 
" style="fill: none; stroke: #000000; stroke-width: 4.8; stroke-linejoin: miter; stroke-linecap: square"/>
   </g>
  </g>
  <g id="patch_7">
   <path d="M 1332 623.4 
L 2027.7 623.4 
Q 2033.2 623.4 2033.2 617.9 
L 2033.2 74.1 
Q 2033.2 68.6 2027.7 68.6 
L 1332 68.6 
Q 1326.5 68.6 1326.5 74.1 
L 1326.5 617.9 
Q 1326.5 623.4 1332 623.4 
z
" style="fill: #ffffff; fill-opacity: 0.8; stroke: #cccccc; stroke-opacity: 0.8; stroke-width: 5.2; stroke-linejoin: miter"/>
  </g>
  <g id="line2d_169">
   <path d="M 1340.5 107.4 
L 1441.5 107.4 
" style="fill: none; stroke: #ff0000; stroke-width: 8"/>
  </g>
  <g id="line2d_170">
   <path d="M 1340.5 176.7 
L 1441.5 176.7 
" style="fill: none; stroke: #0000ff; stroke-width: 8"/>
  </g>
  <g id="line2d_171">
   <path d="M 1340.5 246 
L 1441.5 246 
" style="fill: none; stroke: #008000; stroke-width: 8"/>
  </g>
  <g id="line2d_172">
   <path d="M 1340.5 315.3 
L 1441.5 315.3 
" style="fill: none; stroke: #00bfbf; stroke-width: 8"/>
  </g>
  <g id="line2d_173">
   <path d="M 1340.5 394.9 
L 1441.5 394.9 
" style="fill: none; stroke: #000000; stroke-width: 8"/>
  </g>
  <g id="line2d_174">
   <path d="M 1343.5 482 
L 1438 482 
" style="fill: none; stroke-dasharray: 26.7,10.1; stroke-dashoffset: 0; stroke: #000000; stroke-width: 8"/>
  </g>
  <g id="line2d_175">
   <path d="M 1343.5 570 
L 1438 570 
" style="fill: none; stroke-dasharray: 45.5,10.1,8,10.1; stroke-dashoffset: 0; stroke: #000000; stroke-width: 8"/>
  </g>
  <g id="legtext0">
   <g transform="translate(1473.2 121.7) scale(0.987 1)">
    <text><tspan x="0" y="-0.11" style="font-size: 47px; font-family: 'DejaVu Sans', 'Liberation Sans', sans-serif">Δ</tspan><tspan x="32.15" y="-0.11" style="font-style: oblique; font-size: 47px; font-family: 'DejaVu Sans', 'Liberation Sans', sans-serif">N</tspan><tspan x="67.31 87.55 99.13" y="7.6" style="font-size: 32.9px; font-family: 'DejaVu Sans', 'Liberation Sans', sans-serif">eff</tspan><tspan x="121.16 169.7 199.6 214.54 244.44" y="-0.11" style="font-size: 47px; font-family: 'DejaVu Sans', 'Liberation Sans', sans-serif">=0.02</tspan></text>
   </g>
  </g>
  <g id="legtext1">
   <g transform="translate(1473.2 191) scale(0.987 1)">
    <text><tspan x="0" y="-0.11" style="font-size: 47px; font-family: 'DejaVu Sans', 'Liberation Sans', sans-serif">Δ</tspan><tspan x="32.15" y="-0.11" style="font-style: oblique; font-size: 47px; font-family: 'DejaVu Sans', 'Liberation Sans', sans-serif">N</tspan><tspan x="67.31 87.55 99.13" y="7.6" style="font-size: 32.9px; font-family: 'DejaVu Sans', 'Liberation Sans', sans-serif">eff</tspan><tspan x="121.16 169.7 199.6 214.54 244.44" y="-0.11" style="font-size: 47px; font-family: 'DejaVu Sans', 'Liberation Sans', sans-serif">=0.06</tspan></text>
   </g>
  </g>
  <g id="legtext2">
   <g transform="translate(1473.2 260.3) scale(0.987 1)">
    <text><tspan x="0" y="-0.11" style="font-size: 47px; font-family: 'DejaVu Sans', 'Liberation Sans', sans-serif">Δ</tspan><tspan x="32.15" y="-0.11" style="font-style: oblique; font-size: 47px; font-family: 'DejaVu Sans', 'Liberation Sans', sans-serif">N</tspan><tspan x="67.31 87.55 99.13" y="7.6" style="font-size: 32.9px; font-family: 'DejaVu Sans', 'Liberation Sans', sans-serif">eff</tspan><tspan x="121.16 169.7 199.6 211.91 241.82" y="-0.11" style="font-size: 47px; font-family: 'DejaVu Sans', 'Liberation Sans', sans-serif">=0.25</tspan></text>
   </g>
  </g>
  <g id="legtext3">
   <g transform="translate(1473.2 329.6) scale(0.987 1)">
    <text><tspan x="0" y="-0.11" style="font-size: 47px; font-family: 'DejaVu Sans', 'Liberation Sans', sans-serif">Δ</tspan><tspan x="32.15" y="-0.11" style="font-style: oblique; font-size: 47px; font-family: 'DejaVu Sans', 'Liberation Sans', sans-serif">N</tspan><tspan x="67.31 87.55 99.13" y="7.6" style="font-size: 32.9px; font-family: 'DejaVu Sans', 'Liberation Sans', sans-serif">eff</tspan><tspan x="121.16 169.7 199.6 214.54 244.44" y="-0.11" style="font-size: 47px; font-family: 'DejaVu Sans', 'Liberation Sans', sans-serif">=0.95</tspan></text>
   </g>
  </g>
  <g id="legtext4">
   <g transform="translate(1473.2 405.4) scale(0.987 1)">
    <text><tspan x="0" y="-0.58" style="font-size: 47px; font-family: 'DejaVu Sans', 'Liberation Sans', sans-serif">|</tspan><tspan x="15.83" y="-0.58" style="font-style: oblique; font-size: 47px; font-family: 'DejaVu Sans', 'Liberation Sans', sans-serif">U</tspan><tspan x="50.24" y="7.13" style="font-style: oblique; font-size: 32.9px; font-family: 'DejaVu Sans', 'Liberation Sans', sans-serif">μ</tspan><tspan x="71.17" y="7.13" style="font-size: 32.9px; font-family: 'DejaVu Sans', 'Liberation Sans', sans-serif">4</tspan><tspan x="93.38" y="-0.58" style="font-size: 47px; font-family: 'DejaVu Sans', 'Liberation Sans', sans-serif">|</tspan><tspan x="109.67" y="-18.58" style="font-size: 32.9px; font-family: 'DejaVu Sans', 'Liberation Sans', sans-serif">2</tspan><tspan x="141.04 189.58" y="-0.58" style="font-size: 47px; font-family: 'DejaVu Sans', 'Liberation Sans', sans-serif">=|</tspan><tspan x="205.42" y="-0.58" style="font-style: oblique; font-size: 47px; font-family: 'DejaVu Sans', 'Liberation Sans', sans-serif">U</tspan><tspan x="239.82" y="7.13" style="font-style: oblique; font-size: 32.9px; font-family: 'DejaVu Sans', 'Liberation Sans', sans-serif">τ</tspan><tspan x="259.62" y="7.13" style="font-size: 32.9px; font-family: 'DejaVu Sans', 'Liberation Sans', sans-serif">4</tspan><tspan x="281.84" y="-0.58" style="font-size: 47px; font-family: 'DejaVu Sans', 'Liberation Sans', sans-serif">|</tspan><tspan x="298.13" y="-18.58" style="font-size: 32.9px; font-family: 'DejaVu Sans', 'Liberation Sans', sans-serif">2</tspan><tspan x="329.5 378.04" y="-0.58" style="font-size: 47px; font-family: 'DejaVu Sans', 'Liberation Sans', sans-serif">=0</tspan></text>
   </g>
  </g>
  <g id="legtext5">
   <g transform="translate(1473.2 493.6) scale(0.987 1)">
    <text><tspan x="0" y="-0.58" style="font-size: 47px; font-family: 'DejaVu Sans', 'Liberation Sans', sans-serif">|</tspan><tspan x="15.83" y="-0.58" style="font-style: oblique; font-size: 47px; font-family: 'DejaVu Sans', 'Liberation Sans', sans-serif">U</tspan><tspan x="50.24" y="7.13" style="font-style: oblique; font-size: 32.9px; font-family: 'DejaVu Sans', 'Liberation Sans', sans-serif">μ</tspan><tspan x="71.17" y="7.13" style="font-size: 32.9px; font-family: 'DejaVu Sans', 'Liberation Sans', sans-serif">4</tspan><tspan x="93.38" y="-0.58" style="font-size: 47px; font-family: 'DejaVu Sans', 'Liberation Sans', sans-serif">|</tspan><tspan x="109.67" y="-18.58" style="font-size: 32.9px; font-family: 'DejaVu Sans', 'Liberation Sans', sans-serif">2</tspan><tspan x="141.04 189.58 219.48" y="-0.58" style="font-size: 47px; font-family: 'DejaVu Sans', 'Liberation Sans', sans-serif">=10</tspan><tspan x="249.84 277.4" y="-18.58" style="font-size: 32.9px; font-family: 'DejaVu Sans', 'Liberation Sans', sans-serif">−3</tspan><tspan x="299.62 314.56 329.5" y="-0.58" style="font-size: 47px; font-family: 'DejaVu Sans', 'Liberation Sans', sans-serif">, |</tspan><tspan x="345.34" y="-0.58" style="font-style: oblique; font-size: 47px; font-family: 'DejaVu Sans', 'Liberation Sans', sans-serif">U</tspan><tspan x="379.74" y="7.13" style="font-style: oblique; font-size: 32.9px; font-family: 'DejaVu Sans', 'Liberation Sans', sans-serif">τ</tspan><tspan x="399.54" y="7.13" style="font-size: 32.9px; font-family: 'DejaVu Sans', 'Liberation Sans', sans-serif">4</tspan><tspan x="421.76" y="-0.58" style="font-size: 47px; font-family: 'DejaVu Sans', 'Liberation Sans', sans-serif">|</tspan><tspan x="438.05" y="-18.58" style="font-size: 32.9px; font-family: 'DejaVu Sans', 'Liberation Sans', sans-serif">2</tspan><tspan x="469.42 517.96" y="-0.58" style="font-size: 47px; font-family: 'DejaVu Sans', 'Liberation Sans', sans-serif">=0</tspan></text>
   </g>
  </g>
  <g id="legtext6">
   <g transform="translate(1473.2 581.7) scale(0.987 1)">
    <text><tspan x="0" y="-0.58" style="font-size: 47px; font-family: 'DejaVu Sans', 'Liberation Sans', sans-serif">|</tspan><tspan x="15.83" y="-0.58" style="font-style: oblique; font-size: 47px; font-family: 'DejaVu Sans', 'Liberation Sans', sans-serif">U</tspan><tspan x="50.24" y="7.13" style="font-style: oblique; font-size: 32.9px; font-family: 'DejaVu Sans', 'Liberation Sans', sans-serif">μ</tspan><tspan x="71.17" y="7.13" style="font-size: 32.9px; font-family: 'DejaVu Sans', 'Liberation Sans', sans-serif">4</tspan><tspan x="93.38" y="-0.58" style="font-size: 47px; font-family: 'DejaVu Sans', 'Liberation Sans', sans-serif">|</tspan><tspan x="109.67" y="-18.58" style="font-size: 32.9px; font-family: 'DejaVu Sans', 'Liberation Sans', sans-serif">2</tspan><tspan x="141.04 189.58" y="-0.58" style="font-size: 47px; font-family: 'DejaVu Sans', 'Liberation Sans', sans-serif">=|</tspan><tspan x="205.42" y="-0.58" style="font-style: oblique; font-size: 47px; font-family: 'DejaVu Sans', 'Liberation Sans', sans-serif">U</tspan><tspan x="239.82" y="7.13" style="font-style: oblique; font-size: 32.9px; font-family: 'DejaVu Sans', 'Liberation Sans', sans-serif">τ</tspan><tspan x="259.62" y="7.13" style="font-size: 32.9px; font-family: 'DejaVu Sans', 'Liberation Sans', sans-serif">4</tspan><tspan x="281.84" y="-0.58" style="font-size: 47px; font-family: 'DejaVu Sans', 'Liberation Sans', sans-serif">|</tspan><tspan x="298.13" y="-18.58" style="font-size: 32.9px; font-family: 'DejaVu Sans', 'Liberation Sans', sans-serif">2</tspan><tspan x="329.5 378.04 407.94" y="-0.58" style="font-size: 47px; font-family: 'DejaVu Sans', 'Liberation Sans', sans-serif">=10</tspan><tspan x="438.29 465.86" y="-18.58" style="font-size: 32.9px; font-family: 'DejaVu Sans', 'Liberation Sans', sans-serif">−3</tspan></text>
   </g>
  </g>
 </g>
 <defs>
  <clipPath id="p6a6353f2ea">
   <rect x="218" y="45.5" width="1838.5" height="1399"/>
  </clipPath>
 </defs>
</svg>

</body></html>
